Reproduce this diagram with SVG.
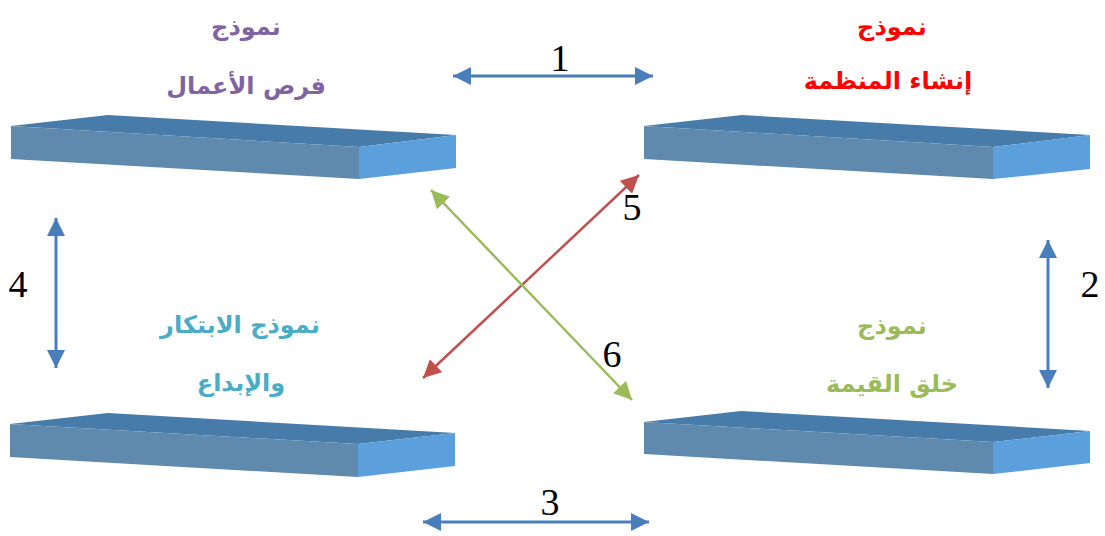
<svg xmlns="http://www.w3.org/2000/svg" width="1105" height="536" viewBox="0 0 1105 536">
<style>
.top{fill:#477CAA}.front{fill:#5F8AAE}.side{fill:#5B9FDC}
.ar{font-family:"DejaVu Sans",sans-serif;font-weight:bold;font-size:24px;text-anchor:middle}
.num{font-family:"Liberation Serif",serif;font-size:38px;fill:#000;text-anchor:middle}
.blue{stroke:#4A7EBB;stroke-width:3;fill:none}
.red{stroke:#C0504D;stroke-width:2.5;fill:none}
.green{stroke:#9BBB59;stroke-width:2.5;fill:none}
</style>
<defs>
<marker id="hb" markerUnits="userSpaceOnUse" markerWidth="18" markerHeight="18" viewBox="0 0 16 16" refX="16" refY="8" orient="auto-start-reverse"><path d="M0,0 L16,8 L0,16 Z" fill="#4A7EBB"/></marker>
<marker id="hr" markerUnits="userSpaceOnUse" markerWidth="18" markerHeight="18" viewBox="0 0 16 16" refX="16" refY="8" orient="auto-start-reverse"><path d="M0,0 L16,8 L0,16 Z" fill="#C0504D"/></marker>
<marker id="hg" markerUnits="userSpaceOnUse" markerWidth="18" markerHeight="18" viewBox="0 0 16 16" refX="16" refY="8" orient="auto-start-reverse"><path d="M0,0 L16,8 L0,16 Z" fill="#9BBB59"/></marker>
</defs>
<g id="node-business-opportunities">
<polygon class="top" points="11,126 108,115 456,135 359,147"/>
<polygon class="front" points="11,126 359,147 359,179 11,159"/>
<polygon class="side" points="359,147 456,135 456,168 359,179"/>
<text class="ar" x="246" y="35" fill="#8064A2">نموذج</text>
<text class="ar" x="246" y="94" fill="#8064A2">فرص الأعمال</text>
</g>
<g id="node-organization-creation">
<polygon class="top" points="644,126 742,115 1090,135 993,147"/>
<polygon class="front" points="644,126 993,147 993,179 644,159"/>
<polygon class="side" points="993,147 1090,135 1090,169 993,179"/>
<text class="ar" x="892" y="35" fill="#FF0000">نموذج</text>
<text class="ar" x="888" y="89" fill="#FF0000">إنشاء المنظمة</text>
</g>
<g id="node-innovation">
<polygon class="top" points="10,424 108,413 455,433 358,444"/>
<polygon class="front" points="10,424 358,444 358,477 10,457"/>
<polygon class="side" points="358,444 455,433 455,466 358,477"/>
<text class="ar" x="240" y="333" fill="#4BACC6">نموذج الابتكار</text>
<text class="ar" x="241" y="391" fill="#4BACC6">والإبداع</text>
</g>
<g id="node-value-creation">
<polygon class="top" points="644,422 741,411 1090,431 993,442"/>
<polygon class="front" points="644,422 993,442 993,474 644,454"/>
<polygon class="side" points="993,442 1090,431 1090,463 993,474"/>
<text class="ar" x="892" y="334" fill="#9BBB59">نموذج</text>
<text class="ar" x="892" y="392" fill="#9BBB59">خلق القيمة</text>
</g>
<g id="connectors">
<line class="blue" x1="453" y1="76" x2="653" y2="76" marker-start="url(#hb)" marker-end="url(#hb)"/>
<line class="blue" x1="1048" y1="240" x2="1048" y2="388" marker-start="url(#hb)" marker-end="url(#hb)"/>
<line class="blue" x1="423" y1="522" x2="649" y2="522" marker-start="url(#hb)" marker-end="url(#hb)"/>
<line class="blue" x1="56" y1="218" x2="56" y2="368" marker-start="url(#hb)" marker-end="url(#hb)"/>
<line class="red" x1="423" y1="378" x2="639" y2="175" marker-start="url(#hr)" marker-end="url(#hr)"/>
<line class="green" x1="431" y1="190" x2="632" y2="400" marker-start="url(#hg)" marker-end="url(#hg)"/>
<text class="num" x="560" y="71">1</text>
<text class="num" x="1090" y="297">2</text>
<text class="num" x="550" y="515">3</text>
<text class="num" x="18" y="297">4</text>
<text class="num" x="632" y="220">5</text>
<text class="num" x="612" y="367">6</text>
</g>
</svg>
